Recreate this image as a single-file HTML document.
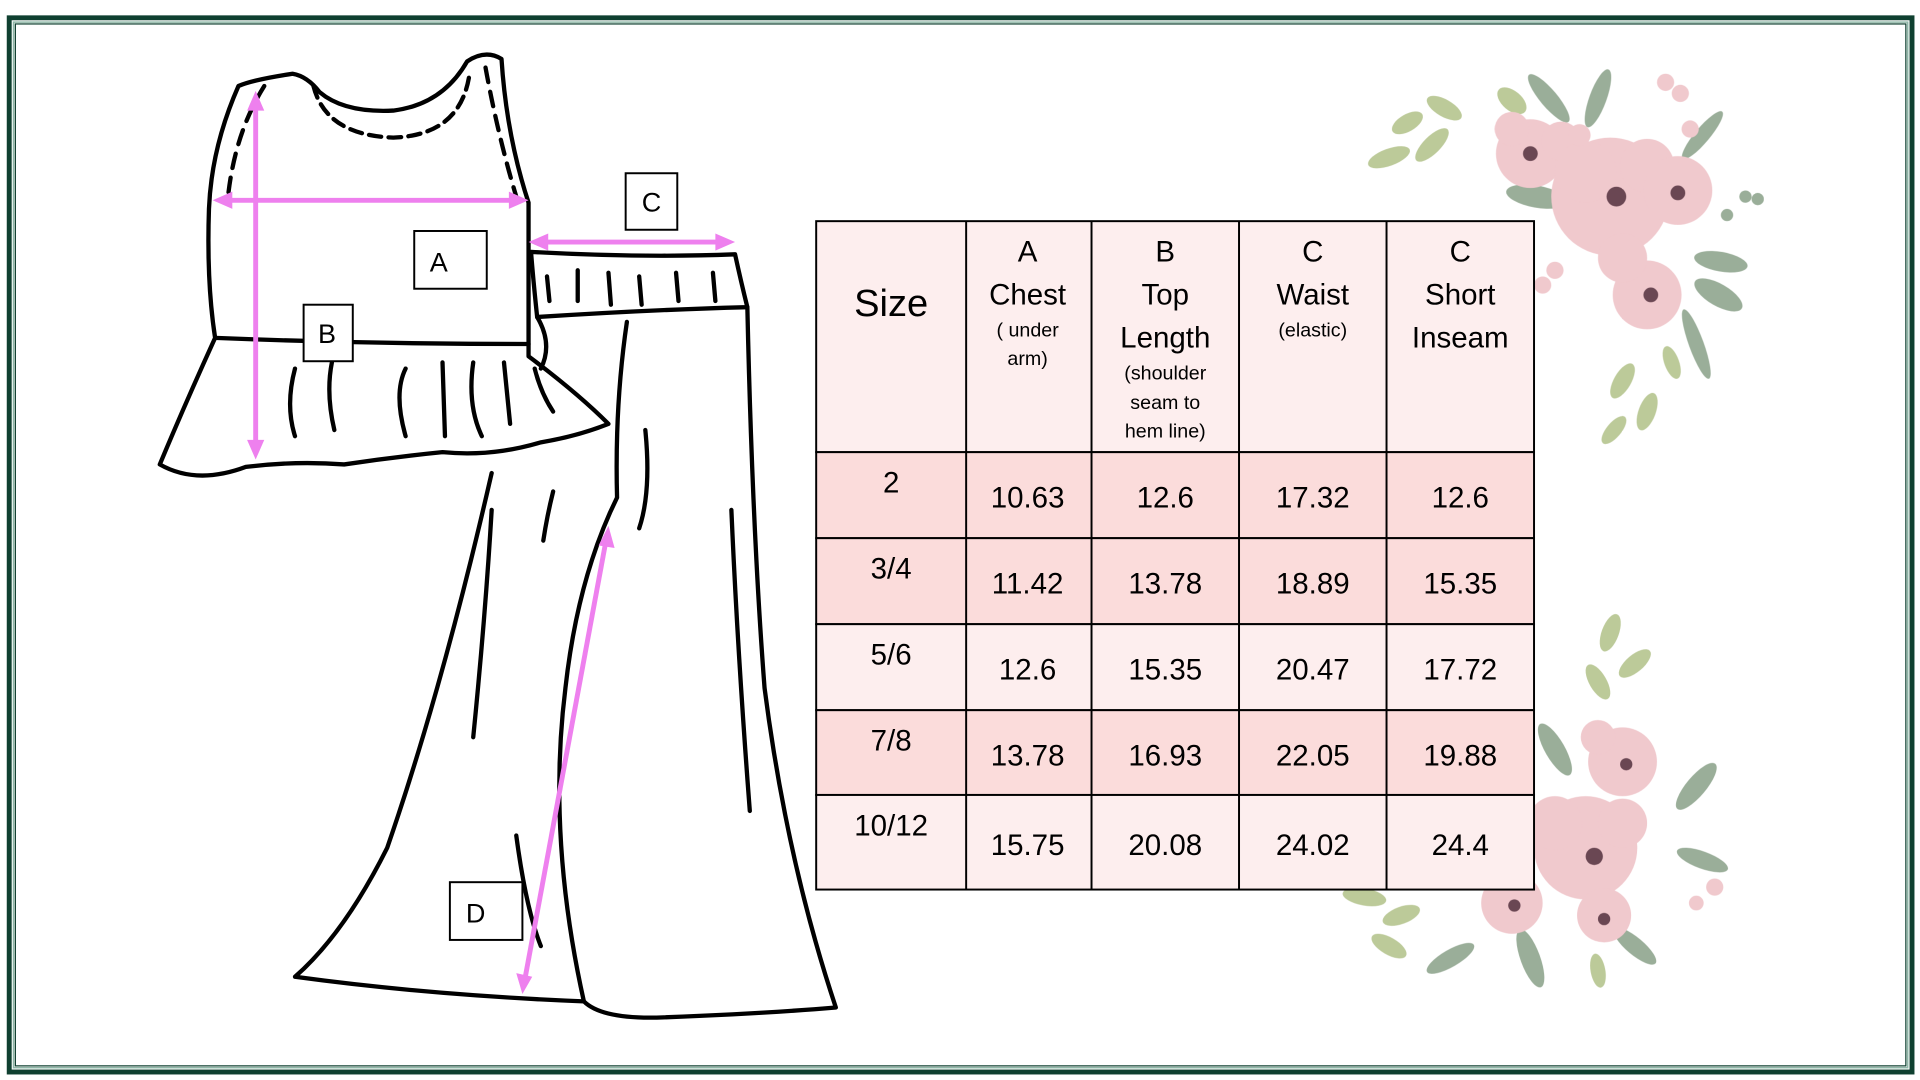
<!DOCTYPE html>
<html><head><meta charset="utf-8"><style>
html,body{margin:0;padding:0;background:#fff;}
svg{display:block;}
text{font-family:"Liberation Sans",sans-serif;fill:#000;}
</style></head><body>
<svg width="1920" height="1080" viewBox="0 0 1562 879" preserveAspectRatio="none" xmlns="http://www.w3.org/2000/svg">
<rect x="0" y="0" width="1562" height="879" fill="#fff"/>
<rect x="7.5" y="14.5" width="1548" height="858" fill="none" stroke="#0f4030" stroke-width="4"/>
<rect x="11" y="18" width="1541" height="851" fill="none" stroke="#8fb8a8" stroke-width="1.2"/>
<rect x="12.5" y="19.5" width="1538" height="848" fill="none" stroke="#0f4030" stroke-width="1"/>

<!-- flowers top -->
<g opacity="0.9">
<g fill="#b5c48e">
<ellipse cx="1145" cy="100" rx="14" ry="7" transform="rotate(-30 1145 100)"/>
<ellipse cx="1175" cy="88" rx="16" ry="7" transform="rotate(30 1175 88)"/>
<ellipse cx="1130" cy="128" rx="18" ry="7" transform="rotate(-20 1130 128)"/>
<ellipse cx="1165" cy="118" rx="18" ry="7" transform="rotate(-45 1165 118)"/>
<ellipse cx="1230" cy="82" rx="14" ry="8" transform="rotate(40 1230 82)"/>
<ellipse cx="1320" cy="310" rx="16" ry="7" transform="rotate(-60 1320 310)"/>
<ellipse cx="1340" cy="335" rx="16" ry="7" transform="rotate(-70 1340 335)"/>
<ellipse cx="1313" cy="350" rx="14" ry="6" transform="rotate(-50 1313 350)"/>
<ellipse cx="1360" cy="295" rx="14" ry="6" transform="rotate(70 1360 295)"/>
</g>
<g fill="#8fa58e">
<ellipse cx="1260" cy="80" rx="25" ry="7" transform="rotate(50 1260 80)"/>
<ellipse cx="1300" cy="80" rx="25" ry="7" transform="rotate(-70 1300 80)"/>
<ellipse cx="1250" cy="160" rx="25" ry="9" transform="rotate(10 1250 160)"/>
<ellipse cx="1400" cy="213" rx="22" ry="8" transform="rotate(10 1400 213)"/>
<ellipse cx="1398" cy="240" rx="22" ry="9" transform="rotate(30 1398 240)"/>
<ellipse cx="1385" cy="110" rx="25" ry="6" transform="rotate(-50 1385 110)"/>
<ellipse cx="1380" cy="280" rx="30" ry="6" transform="rotate(70 1380 280)"/>
<circle cx="1420" cy="160" r="5"/><circle cx="1430" cy="162" r="5"/><circle cx="1405" cy="175" r="5"/>
</g>
<g fill="#efc3c8">
<circle cx="1245" cy="125" r="28"/><circle cx="1230" cy="105" r="14"/><circle cx="1270" cy="115" r="16"/>
<circle cx="1310" cy="160" r="48"/><circle cx="1290" cy="140" r="25"/><circle cx="1340" cy="135" r="22"/>
<circle cx="1365" cy="155" r="28"/><circle cx="1340" cy="240" r="28"/><circle cx="1320" cy="210" r="20"/>
<circle cx="1355" cy="67" r="7"/><circle cx="1375" cy="105" r="7"/><circle cx="1367" cy="76" r="7"/>
<circle cx="1285" cy="110" r="9"/><circle cx="1265" cy="220" r="7"/><circle cx="1255" cy="232" r="7"/>
</g>
<g fill="#5a3340">
<circle cx="1245" cy="125" r="6"/><circle cx="1315" cy="160" r="8"/><circle cx="1365" cy="157" r="6"/><circle cx="1343" cy="240" r="6"/>
</g>
</g>
<!-- flowers bottom -->
<g opacity="0.9">
<g fill="#b5c48e">
<ellipse cx="1310" cy="515" rx="16" ry="7" transform="rotate(-70 1310 515)"/>
<ellipse cx="1330" cy="540" rx="16" ry="7" transform="rotate(-40 1330 540)"/>
<ellipse cx="1300" cy="555" rx="16" ry="7" transform="rotate(60 1300 555)"/>
<ellipse cx="1110" cy="730" rx="18" ry="7" transform="rotate(10 1110 730)"/>
<ellipse cx="1140" cy="745" rx="16" ry="7" transform="rotate(-20 1140 745)"/>
<ellipse cx="1130" cy="770" rx="16" ry="7" transform="rotate(30 1130 770)"/>
<ellipse cx="1300" cy="790" rx="14" ry="6" transform="rotate(80 1300 790)"/>
</g>
<g fill="#8fa58e">
<ellipse cx="1265" cy="610" rx="24" ry="8" transform="rotate(60 1265 610)"/>
<ellipse cx="1380" cy="640" rx="24" ry="8" transform="rotate(-50 1380 640)"/>
<ellipse cx="1385" cy="700" rx="22" ry="7" transform="rotate(20 1385 700)"/>
<ellipse cx="1245" cy="780" rx="25" ry="8" transform="rotate(70 1245 780)"/>
<ellipse cx="1180" cy="780" rx="22" ry="7" transform="rotate(-30 1180 780)"/>
<ellipse cx="1330" cy="770" rx="22" ry="7" transform="rotate(40 1330 770)"/>
</g>
<g fill="#efc3c8">
<circle cx="1320" cy="620" r="28"/><circle cx="1300" cy="600" r="14"/>
<circle cx="1290" cy="690" r="42"/><circle cx="1265" cy="670" r="22"/><circle cx="1320" cy="670" r="20"/>
<circle cx="1230" cy="735" r="25"/><circle cx="1305" cy="745" r="22"/>
<circle cx="1395" cy="722" r="7"/><circle cx="1380" cy="735" r="6"/><circle cx="1207" cy="710" r="6"/>
</g>
<g fill="#5a3340">
<circle cx="1323" cy="622" r="5"/><circle cx="1297" cy="697" r="7"/><circle cx="1232" cy="737" r="5"/><circle cx="1305" cy="748" r="5"/>
</g>
</g>

<g transform="translate(-2,-1)">
<!-- table -->
<g stroke="#000" stroke-width="1.6">
<rect x="666" y="181" width="584" height="188" fill="#fdeeee"/>
<rect x="666" y="369" width="584" height="70" fill="#fbdcdb"/>
<rect x="666" y="439" width="584" height="70" fill="#fbdcdb"/>
<rect x="666" y="509" width="584" height="70" fill="#fdeeee"/>
<rect x="666" y="579" width="584" height="69" fill="#fbdcdb"/>
<rect x="666" y="648" width="584" height="77" fill="#fdeeee"/>
<line x1="788" y1="181" x2="788" y2="725"/><line x1="890" y1="181" x2="890" y2="725"/>
<line x1="1010" y1="181" x2="1010" y2="725"/><line x1="1130" y1="181" x2="1130" y2="725"/>
</g>
<g text-anchor="middle">
<text x="727" y="258" font-size="31">Size</text>
<text x="838" y="214" font-size="24">A</text><text x="838" y="249" font-size="24">Chest</text>
<text x="838" y="275" font-size="16">( under</text><text x="838" y="298" font-size="16">arm)</text>
<text x="950" y="214" font-size="24">B</text><text x="950" y="249" font-size="24">Top</text><text x="950" y="284" font-size="24">Length</text>
<text x="950" y="310" font-size="16">(shoulder</text><text x="950" y="334" font-size="16">seam to</text><text x="950" y="357" font-size="16">hem line)</text>
<text x="1070" y="214" font-size="24">C</text><text x="1070" y="249" font-size="24">Waist</text><text x="1070" y="275" font-size="16">(elastic)</text>
<text x="1190" y="214" font-size="24">C</text><text x="1190" y="249" font-size="24">Short</text><text x="1190" y="284" font-size="24">Inseam</text>
<g font-size="24">
<text x="727" y="402">2</text><text x="838" y="414">10.63</text><text x="950" y="414">12.6</text><text x="1070" y="414">17.32</text><text x="1190" y="414">12.6</text>
<text x="727" y="472">3/4</text><text x="838" y="484">11.42</text><text x="950" y="484">13.78</text><text x="1070" y="484">18.89</text><text x="1190" y="484">15.35</text>
<text x="727" y="542">5/6</text><text x="838" y="554">12.6</text><text x="950" y="554">15.35</text><text x="1070" y="554">20.47</text><text x="1190" y="554">17.72</text>
<text x="727" y="612">7/8</text><text x="838" y="624">13.78</text><text x="950" y="624">16.93</text><text x="1070" y="624">22.05</text><text x="1190" y="624">19.88</text>
<text x="727" y="681">10/12</text><text x="838" y="697">15.75</text><text x="950" y="697">20.08</text><text x="1070" y="697">24.02</text><text x="1190" y="697">24.4</text>
</g>
</g>
</g>

<!-- garments -->
<g fill="none" stroke="#000" stroke-width="3.5" stroke-linecap="round" stroke-linejoin="round">
<path d="M238 60 Q205 65 194 70 Q172 120 170 170 Q168 230 175 275 Q150 330 130 378 Q160 395 200 380 Q240 375 280 378 Q320 372 360 368 Q400 372 440 360 Q470 355 495 345 Q470 320 430 290 Q430 230 430 165 Q412 110 408 48 Q395 40 380 50 Q360 85 320 90 Q280 92 260 75 Q250 62 238 60"/>
<path d="M175 275 Q300 280 430 280"/>
<path d="M255 70 Q265 110 320 112 Q375 110 382 60" stroke-dasharray="10 6"/>
<path d="M395 55 Q405 110 420 160" stroke-dasharray="12 8"/>
<path d="M215 70 Q190 110 185 165" stroke-dasharray="12 8"/>
<path d="M240 300 Q232 330 240 355 M270 295 Q265 320 272 350 M330 300 Q320 320 330 355 M360 295 L362 355 M385 295 Q380 330 392 355 M410 295 L415 345 M435 300 Q440 320 450 335"/>
<path d="M432 205 Q520 210 598 207 Q603 230 608 250 Q530 252 437 258 Q434 230 432 205"/>
<path d="M445 225 L447 245 M470 220 L470 245 M495 222 L497 248 M520 225 L522 248 M550 222 L552 245 M580 222 L582 245"/>
<path d="M437 258 Q450 280 440 300 M400 385 Q360 560 315 690 Q280 760 240 795 Q350 810 475 815 Q490 830 540 828 Q620 825 680 820 Q640 700 622 560 Q612 430 608 250"/>
<path d="M510 262 Q500 330 502 405 Q470 470 460 560 Q445 680 475 815"/>
<path d="M400 415 Q395 500 385 600 M595 415 Q600 530 610 660 M450 400 Q445 420 442 440 M525 350 Q530 400 520 430 M420 680 Q428 740 440 770"/>
</g>
<g stroke="#ee80ee" stroke-width="4" fill="#ee80ee">
<line x1="208" y1="86" x2="208" y2="362"/><polygon points="208,74 201,90 215,90" stroke="none"/><polygon points="208,374 201,358 215,358" stroke="none"/>
<line x1="185" y1="163" x2="420" y2="163"/><polygon points="173,163 189,156 189,170" stroke="none"/><polygon points="430,163 414,156 414,170" stroke="none"/>
<line x1="440" y1="197" x2="588" y2="197"/><polygon points="430,197 446,190 446,204" stroke="none"/><polygon points="598,197 582,190 582,204" stroke="none"/>
<line x1="493" y1="440" x2="427" y2="797"/><polygon points="495,428 487,444 500,446" stroke="none"/><polygon points="425,809 420,792 433,795" stroke="none"/>
</g>
<g fill="#fff" stroke="#000" stroke-width="1.6">
<rect x="509" y="141" width="42" height="46"/><rect x="337" y="188" width="59" height="47"/>
<rect x="247" y="248" width="40" height="46"/><rect x="366" y="718" width="59" height="47"/>
</g>
<g font-size="22" text-anchor="middle">
<text x="530" y="172">C</text><text x="357" y="221">A</text><text x="266" y="279">B</text><text x="387" y="751">D</text>
</g>
</svg>
</body></html>
